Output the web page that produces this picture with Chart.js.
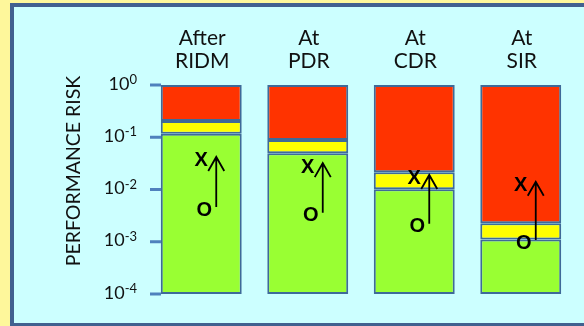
<!DOCTYPE html>
<html>
<head>
<meta charset="utf-8">
<script src="https://cdn.jsdelivr.net/npm/chart.js@4.4.1/dist/chart.umd.min.js"></script>
<style>
  html, body { margin: 0; padding: 0; }
  body { width: 584px; height: 326px; background: #fef79b; position: relative; overflow: hidden; }
  #panel { position: absolute; left: 10px; top: 3px; width: 600px; height: 316px;
           background: #ccffff; border: 4px solid #41608f; }
  #wrap { position: absolute; left: 0; top: 0; width: 584px; height: 326px; }
</style>
</head>
<body>
<div id="panel"></div>
<div id="wrap"><canvas id="chart1"></canvas></div>
<script>
  "use strict";

  // data
  var categories = [['After', 'RIDM'], ['At', 'PDR'], ['At', 'CDR'], ['At', 'SIR']];
  var axisMin = 1e-4;
  var axisMax = 1;
  var greenTop = [0.117, 0.0493, 0.0101, 0.00111];
  var yellowTop = [0.205, 0.0886, 0.0213, 0.00225];
  var markO = [0.0046, 0.0036, 0.0022, 0.00108];
  var markX = [0.042, 0.032, 0.019, 0.0141];
  var tickExponents = [0, -1, -2, -3, -4];
  var axisTitle = 'PERFORMANCE RISK';

  var edge = '#3f6a98';

  // extra drawing: superscript ticks, top labels, axis title, arrows
  var decorations = {
    id: 'decorations',
    afterDatasetsDraw: function(chart) {
      var ctx = chart.ctx;
      var xs = chart.scales.x, ys = chart.scales.y;
      ctx.save();

      // tick marks + labels
      tickExponents.forEach(function(e) {
        var y = ys.getPixelForValue(Math.pow(10, e));
        ctx.strokeStyle = '#4f81bd';
        ctx.lineWidth = 3;
        ctx.beginPath();
        ctx.moveTo(150, y);
        ctx.lineTo(161, y);
        ctx.stroke();

        ctx.fillStyle = '#111';
        ctx.textAlign = 'right';
        ctx.textBaseline = 'alphabetic';
        var sup = String(e);
        ctx.font = '13px Lato';
        ctx.fillText(sup, 137, y - 1);
        var w = ctx.measureText(sup).width;
        ctx.font = '18px Lato';
        ctx.fillText('10', 137 - w, y + 4.5);
      });

      // category labels on top
      ctx.fillStyle = '#111';
      ctx.textAlign = 'center';
      ctx.font = '21px Lato';
      categories.forEach(function(lines, i) {
        var x = xs.getPixelForValue(i) + 1;
        ctx.fillText(lines[0], x, 45);
        ctx.fillText(lines[1], x, 68);
      });

      // axis title
      ctx.save();
      ctx.translate(80, 171);
      ctx.rotate(-Math.PI / 2);
      ctx.font = '19.5px Lato';
      ctx.textAlign = 'center';
      ctx.fillText(axisTitle, 0, 0);
      ctx.restore();

      // O -> X arrows
      markO.forEach(function(v, i) {
        var x = xs.getPixelForValue(i) + 15;
        var y1 = ys.getPixelForValue(v);
        var y2 = ys.getPixelForValue(markX[i]);
        ctx.strokeStyle = '#000';
        ctx.lineWidth = 1.8;
        ctx.beginPath();
        ctx.moveTo(x, y1);
        ctx.lineTo(x, y2);
        ctx.moveTo(x - 8, y2 + 14);
        ctx.lineTo(x, y2);
        ctx.lineTo(x + 8, y2 + 14);
        ctx.stroke();

        ctx.fillStyle = '#000';
        ctx.font = 'bold 20px "Liberation Sans"';
        ctx.textAlign = 'center';
        ctx.textBaseline = 'middle';
        ctx.fillText('X', x - 15, y2 + 4);
        ctx.fillText('O', x - 12, y1 + 3);
      });

      ctx.restore();
    }
  };

  var ctx = document.getElementById('chart1').getContext('2d');

  var myChart = new Chart(ctx, {
    type: 'bar',
    data: {
      labels: categories.map(function(c) { return c.join(' '); }),
      datasets: [{
        label: 'low',
        data: greenTop.map(function(v) { return [axisMin, v]; }),
        backgroundColor: '#99ff33'
      }, {
        label: 'mid',
        data: greenTop.map(function(v, i) { return [v, yellowTop[i]]; }),
        backgroundColor: '#ffff00'
      }, {
        label: 'high',
        data: yellowTop.map(function(v) { return [v, axisMax]; }),
        backgroundColor: '#ff3300'
      }]
    },
    options: {
      maintainAspectRatio: false,
      animation: false,
      events: [],
      layout: { padding: { left: 148, right: 10, top: 85, bottom: 32 } },
      datasets: {
        bar: {
          grouped: false,
          barPercentage: 0.76,
          categoryPercentage: 1,
          borderColor: edge,
          borderWidth: 2,
          borderSkipped: false
        }
      },
      plugins: {
        legend: { display: false },
        tooltip: { enabled: false }
      },
      scales: {
        x: { display: false },
        y: { type: 'logarithmic', min: axisMin, max: axisMax, display: false }
      }
    },
    plugins: [decorations]
  });
</script>
</body>
</html>
